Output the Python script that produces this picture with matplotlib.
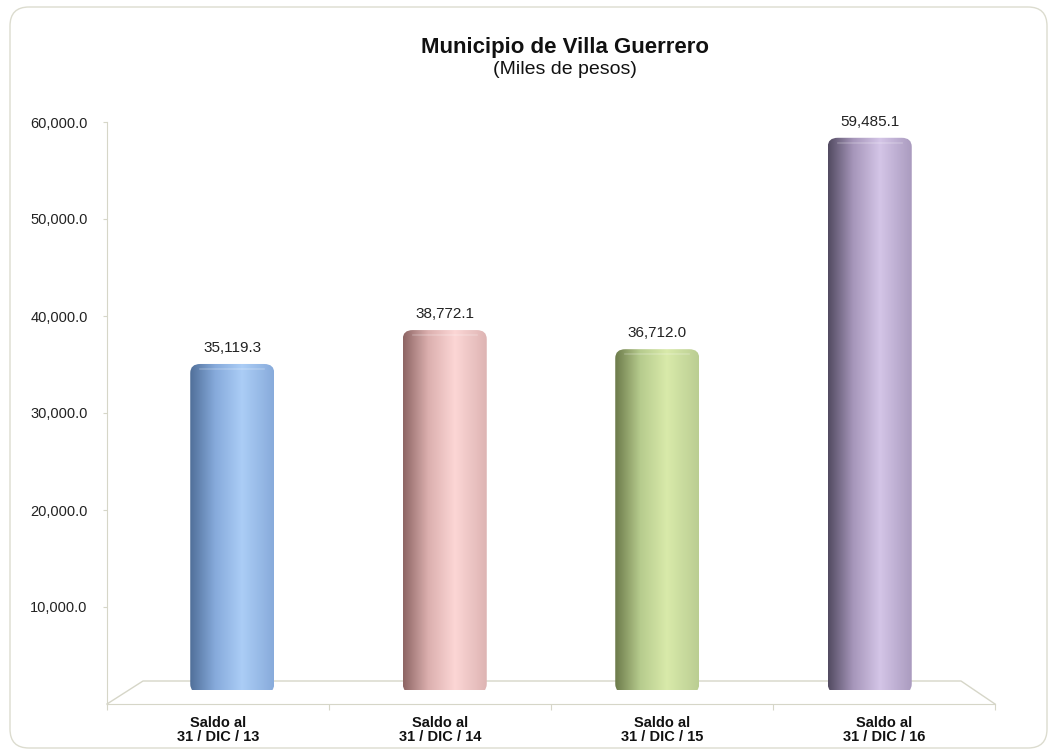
import numpy as np
import matplotlib
matplotlib.use('Agg')
import matplotlib.pyplot as plt
from matplotlib.colors import LinearSegmentedColormap
from matplotlib.patches import FancyBboxPatch

plt.rcParams['font.family'] = ['Liberation Sans', 'DejaVu Sans']

# datos
categorias = ['Saldo al\n31 / DIC / 13', 'Saldo al\n31 / DIC / 14',
              'Saldo al\n31 / DIC / 15', 'Saldo al\n31 / DIC / 16']
valores = [35119.3, 38772.1, 36712.0, 59485.1]
y_ticks = [10000, 20000, 30000, 40000, 50000, 60000]

# colores de cada cilindro (oscuro, base, claro, base)
colores = [
    ['#506f99', '#86aadb', '#abcdf6', '#88abdb'],
    ['#8d6564', '#dbafae', '#fcd6d5', '#ddb4b3'],
    ['#6c7a4a', '#b6cb8d', '#d9eaaa', '#bacd92'],
    ['#524a61', '#a696ba', '#d4c5e7', '#aa9bbf'],
]

W, H = 1052, 755
fig = plt.figure(figsize=(W / 100, H / 100), dpi=100)
fig.patch.set_facecolor('white')

# marco redondeado
marco = FancyBboxPatch((10 / W, 7 / H), 1037 / W, 741 / H,
                       boxstyle='round,pad=0,rounding_size=0.018',
                       mutation_aspect=W / H, transform=fig.transFigure,
                       facecolor='none', edgecolor='#dcdccf', linewidth=1.0)
fig.patches.append(marco)

# ejes principales (eje y + piso)
ax = fig.add_axes([107 / W, (H - 704) / H, 888 / W, 582 / H])
ax.set_xlim(0, 4)
ax.set_ylim(0, 60000)
ax.patch.set_alpha(0)
for s in ['top', 'right']:
    ax.spines[s].set_visible(False)
ax.spines['left'].set_color('#d6d6c8')
ax.spines['bottom'].set_color('#d6d6c8')
ax.set_yticks(y_ticks)
ax.set_yticklabels(['{:,.1f}'.format(v) for v in y_ticks], fontsize=10.5, color='#222222')
ax.tick_params(axis='y', length=3, pad=11, color='#d6d6c8')
ax.set_xticks([0, 1, 2, 3, 4])
ax.set_xticklabels([])
ax.tick_params(axis='x', length=4, color='#d6d6c8', direction='out')

# piso 3d
fx0, fx1, fy = 36 / 888, 854 / 888, 23 / 582
ax.plot([0, fx0, fx1, 1], [0, fy, fy, 0], transform=ax.transAxes,
        color='#d6d6c8', linewidth=1.0, clip_on=False)

# etiquetas de categorias
for i, cat in enumerate(categorias):
    ax.text(i + 0.5, -0.045, cat, transform=ax.get_xaxis_transform(),
            ha='center', va='center', fontsize=10.5, fontweight='bold',
            linespacing=1.05, color='#111111')

# ejes de los cilindros
ax2 = fig.add_axes([126 / W, (H - 690) / H, 850 / W, 557 / H])
ax2.set_xlim(-0.5, 3.5)
ax2.set_ylim(0, 60000)
ax2.axis('off')
ax2.patch.set_alpha(0)

px_x = 850 / 4.0          # pixeles por unidad x
px_y = 557 / 60000.0      # pixeles por unidad y
media = 42 / px_x
rx = 10 / px_x
ry = 9 / px_y

grad = np.linspace(0, 1, 256).reshape(1, -1)
for i, v in enumerate(valores):
    cmap = LinearSegmentedColormap.from_list('c%d' % i,
                                             [(0, colores[i][0]), (0.3, colores[i][1]),
                                              (0.62, colores[i][2]), (1, colores[i][3])])
    forma = FancyBboxPatch((i - media, -3 / px_y), 2 * media, v + 3 / px_y,
                           boxstyle='round,pad=0,rounding_size=%f' % rx,
                           mutation_aspect=ry / rx, facecolor='none', edgecolor='none')
    ax2.add_patch(forma)
    img = ax2.imshow(grad, extent=[i - media, i + media, -3 / px_y, v], aspect='auto',
                     cmap=cmap, interpolation='bilinear', zorder=2)
    img.set_clip_path(forma)
    # brillo de la tapa
    xs = np.linspace(i - media + rx, i + media - rx, 50)
    ax2.plot(xs, np.full_like(xs, v - 5 / px_y), color='white', alpha=0.2,
             linewidth=1.2, zorder=3)
    ax2.text(i, v + 16 / px_y, '{:,.1f}'.format(v), ha='center', va='center',
             fontsize=11, color='#222222')

ax2.set_xlim(-0.5, 3.5)
ax2.set_ylim(0, 60000)

# titulo
fig.text(565 / W, 1 - 48 / H, 'Municipio de Villa Guerrero', ha='center', va='center',
         fontsize=16, fontweight='bold', color='#111111')
fig.text(565 / W, 1 - 69 / H, '(Miles de pesos)', ha='center', va='center',
         fontsize=14, color='#111111')

fig.savefig('out.png', dpi=100)
